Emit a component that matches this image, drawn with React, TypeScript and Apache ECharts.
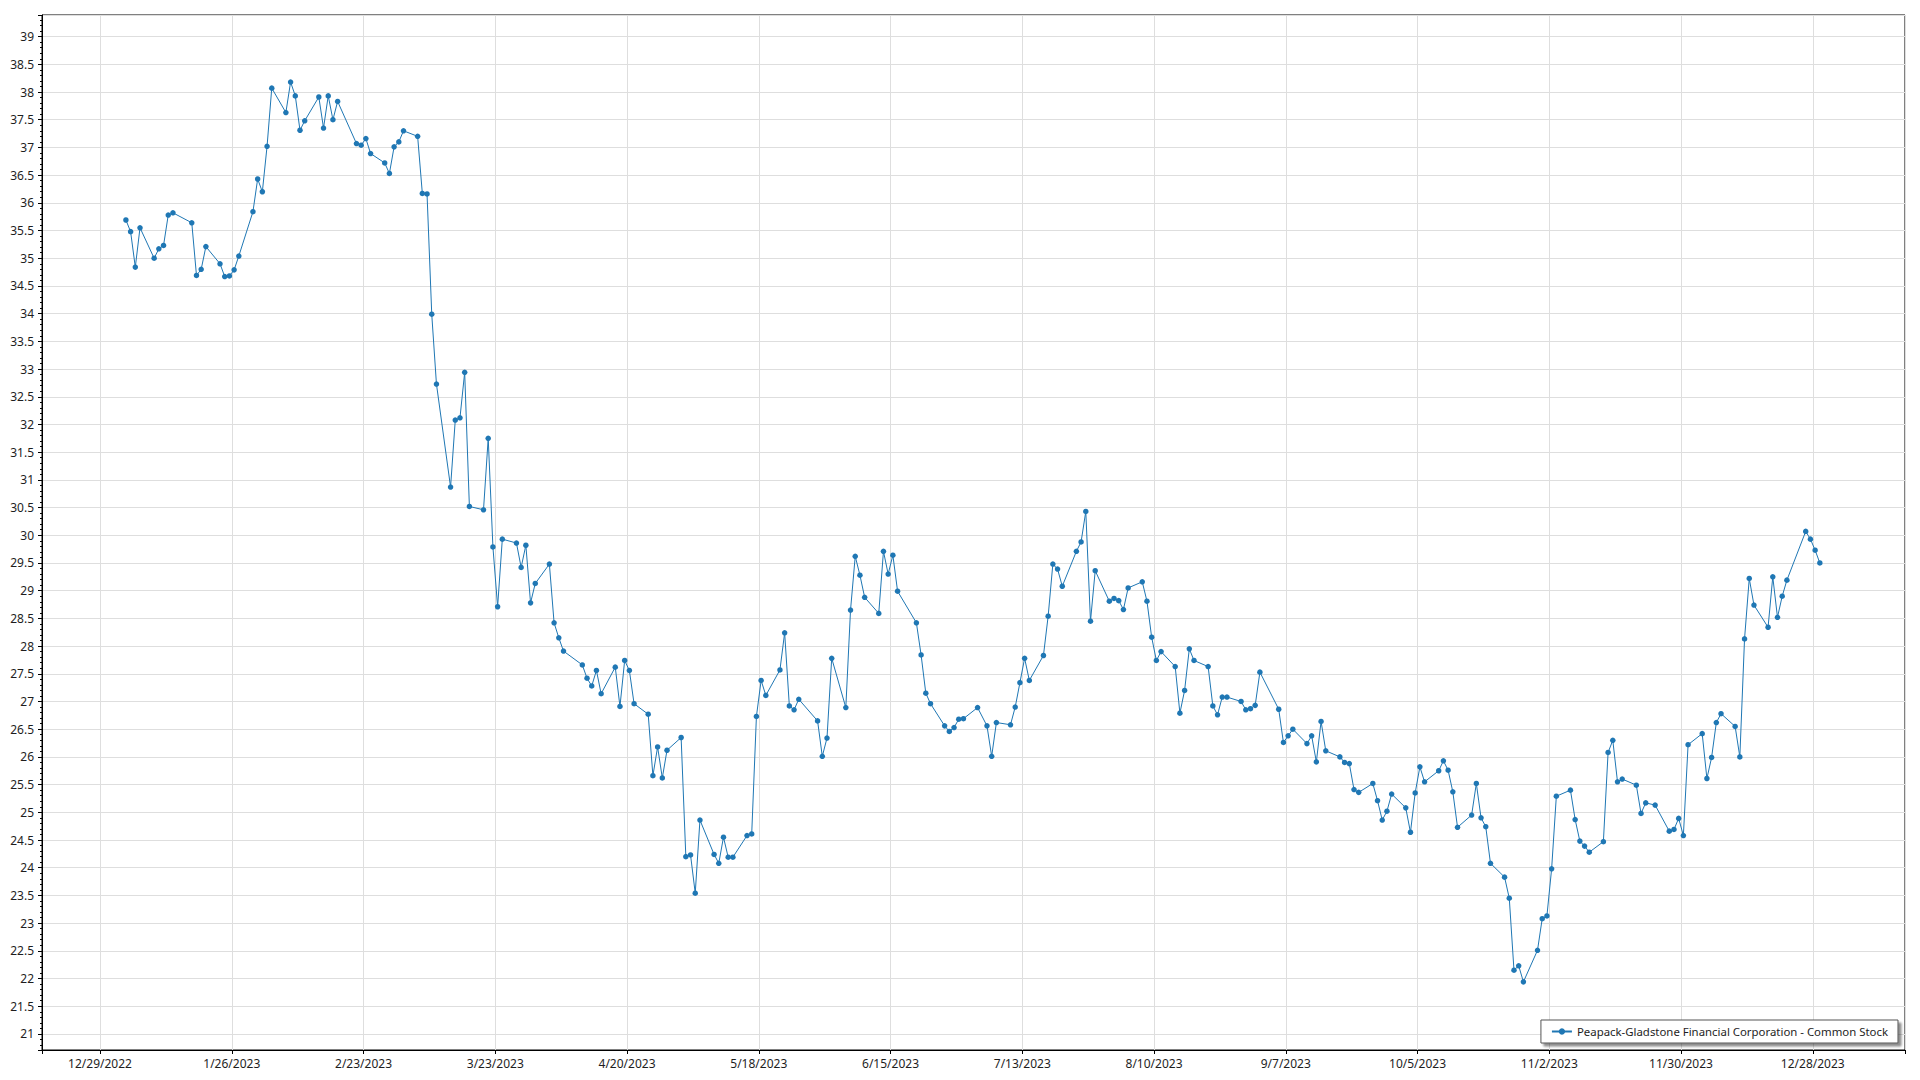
import React, { useEffect, useRef } from 'react';
import * as echarts from 'echarts';

const seriesName = 'Peapack-Gladstone Financial Corporation - Common Stock';

const tradingDates: string[] = [
  // Jan
  '2023-01-03','2023-01-04','2023-01-05','2023-01-06','2023-01-09','2023-01-10','2023-01-11','2023-01-12','2023-01-13','2023-01-17',
  '2023-01-18','2023-01-19','2023-01-20','2023-01-23','2023-01-24','2023-01-25','2023-01-26','2023-01-27','2023-01-30','2023-01-31',
  // Feb
  '2023-02-01','2023-02-02','2023-02-03','2023-02-06','2023-02-07','2023-02-08','2023-02-09','2023-02-10','2023-02-13','2023-02-14',
  '2023-02-15','2023-02-16','2023-02-17','2023-02-21','2023-02-22','2023-02-23','2023-02-24','2023-02-27','2023-02-28',
  // Mar
  '2023-03-01','2023-03-02','2023-03-03','2023-03-06','2023-03-07','2023-03-08','2023-03-09','2023-03-10','2023-03-13','2023-03-14',
  '2023-03-15','2023-03-16','2023-03-17','2023-03-20','2023-03-21','2023-03-22','2023-03-23','2023-03-24','2023-03-27','2023-03-28',
  '2023-03-29','2023-03-30','2023-03-31',
  // Apr
  '2023-04-03','2023-04-04','2023-04-05','2023-04-06','2023-04-10','2023-04-11','2023-04-12','2023-04-13','2023-04-14','2023-04-17',
  '2023-04-18','2023-04-19','2023-04-20','2023-04-21','2023-04-24','2023-04-25','2023-04-26','2023-04-27','2023-04-28',
  // May
  '2023-05-01','2023-05-02','2023-05-03','2023-05-04','2023-05-05','2023-05-08','2023-05-09','2023-05-10','2023-05-11','2023-05-12',
  '2023-05-15','2023-05-16','2023-05-17','2023-05-18','2023-05-19','2023-05-22','2023-05-23','2023-05-24','2023-05-25','2023-05-26',
  '2023-05-30','2023-05-31',
  // Jun
  '2023-06-01','2023-06-02','2023-06-05','2023-06-06','2023-06-07','2023-06-08','2023-06-09','2023-06-12','2023-06-13','2023-06-14',
  '2023-06-15','2023-06-16','2023-06-20','2023-06-21','2023-06-22','2023-06-23','2023-06-26','2023-06-27','2023-06-28','2023-06-29',
  '2023-06-30',
  // Jul
  '2023-07-03','2023-07-05','2023-07-06','2023-07-07','2023-07-10','2023-07-11','2023-07-12','2023-07-13','2023-07-14','2023-07-17',
  '2023-07-18','2023-07-19','2023-07-20','2023-07-21','2023-07-24','2023-07-25','2023-07-26','2023-07-27','2023-07-28','2023-07-31',
  // Aug
  '2023-08-01','2023-08-02','2023-08-03','2023-08-04','2023-08-07','2023-08-08','2023-08-09','2023-08-10','2023-08-11','2023-08-14',
  '2023-08-15','2023-08-16','2023-08-17','2023-08-18','2023-08-21','2023-08-22','2023-08-23','2023-08-24','2023-08-25','2023-08-28',
  '2023-08-29','2023-08-30','2023-08-31',
  // Sep
  '2023-09-01','2023-09-05','2023-09-06','2023-09-07','2023-09-08','2023-09-11','2023-09-12','2023-09-13','2023-09-14','2023-09-15',
  '2023-09-18','2023-09-19','2023-09-20','2023-09-21','2023-09-22','2023-09-25','2023-09-26','2023-09-27','2023-09-28','2023-09-29',
  // Oct
  '2023-10-02','2023-10-03','2023-10-04','2023-10-05','2023-10-06','2023-10-09','2023-10-10','2023-10-11','2023-10-12','2023-10-13',
  '2023-10-16','2023-10-17','2023-10-18','2023-10-19','2023-10-20','2023-10-23','2023-10-24','2023-10-25','2023-10-26','2023-10-27',
  '2023-10-30','2023-10-31',
  // Nov
  '2023-11-01','2023-11-02','2023-11-03','2023-11-06','2023-11-07','2023-11-08','2023-11-09','2023-11-10','2023-11-13','2023-11-14',
  '2023-11-15','2023-11-16','2023-11-17','2023-11-20','2023-11-21','2023-11-22','2023-11-24','2023-11-27','2023-11-28','2023-11-29',
  '2023-11-30',
  // Dec
  '2023-12-01','2023-12-04','2023-12-05','2023-12-06','2023-12-07','2023-12-08','2023-12-11','2023-12-12','2023-12-13','2023-12-14',
  '2023-12-15','2023-12-18','2023-12-19','2023-12-20','2023-12-21','2023-12-22','2023-12-26','2023-12-27','2023-12-28','2023-12-29',
];

const closePrices: number[] = [
  // Jan
  35.69, 35.48, 34.84, 35.55, 35.0, 35.17, 35.23, 35.78, 35.82, 35.64,
  34.69, 34.8, 35.21, 34.9, 34.67, 34.68, 34.79, 35.04, 35.84, 36.43,
  // Feb
  36.2, 37.02, 38.07, 37.63, 38.18, 37.93, 37.31, 37.48, 37.91, 37.35,
  37.93, 37.5, 37.83, 37.07, 37.04, 37.16, 36.89, 36.72, 36.53,
  // Mar
  37.01, 37.1, 37.3, 37.2, 36.17, 36.16, 33.99, 32.73, 30.87, 32.08,
  32.12, 32.94, 30.52, 30.46, 31.75, 29.79, 28.71, 29.93, 29.86, 29.42,
  29.82, 28.78, 29.13,
  // Apr
  29.48, 28.42, 28.15, 27.91, 27.66, 27.42, 27.28, 27.56, 27.14, 27.62,
  26.91, 27.74, 27.56, 26.96, 26.77, 25.66, 26.18, 25.62, 26.12,
  // May
  26.35, 24.2, 24.23, 23.54, 24.86, 24.24, 24.08, 24.55, 24.19, 24.19,
  24.58, 24.61, 26.73, 27.38, 27.11, 27.57, 28.24, 26.92, 26.85, 27.04,
  26.65, 26.01,
  // Jun
  26.34, 27.78, 26.89, 28.65, 29.62, 29.28, 28.88, 28.59, 29.71, 29.3,
  29.64, 28.99, 28.42, 27.84, 27.15, 26.96, 26.56, 26.46, 26.53, 26.68,
  26.69,
  // Jul
  26.89, 26.56, 26.01, 26.62, 26.58, 26.9, 27.34, 27.78, 27.38, 27.83,
  28.54, 29.48, 29.39, 29.08, 29.71, 29.88, 30.43, 28.45, 29.36, 28.81,
  // Aug
  28.86, 28.82, 28.66, 29.05, 29.16, 28.81, 28.16, 27.74, 27.9, 27.63,
  26.79, 27.2, 27.95, 27.74, 27.63, 26.92, 26.76, 27.08, 27.08, 27.0,
  26.85, 26.87, 26.93,
  // Sep
  27.53, 26.86, 26.26, 26.38, 26.5, 26.24, 26.38, 25.91, 26.64, 26.11,
  26.0, 25.9, 25.88, 25.41, 25.36, 25.52, 25.21, 24.86, 25.02, 25.33,
  // Oct
  25.08, 24.64, 25.35, 25.82, 25.55, 25.75, 25.93, 25.76, 25.37, 24.73,
  24.95, 25.52, 24.9, 24.74, 24.08, 23.83, 23.45, 22.15, 22.23, 21.94,
  22.51, 23.08,
  // Nov
  23.13, 23.98, 25.29, 25.4, 24.87, 24.48, 24.39, 24.28, 24.47, 26.08,
  26.3, 25.55, 25.6, 25.49, 24.98, 25.17, 25.13, 24.66, 24.69, 24.89,
  24.58,
  // Dec
  26.22, 26.42, 25.61, 25.99, 26.62, 26.78, 26.55, 26.0, 28.13, 29.22,
  28.74, 28.34, 29.25, 28.52, 28.9, 29.19, 30.07, 29.93, 29.73, 29.5,
];

// Axis settings (x in days counted from the first tick date, 12/29/2022)
const xTickOrigin = '2022-12-29';
const xTickStepDays = 28;
const xMinDays = -12.33;
const xMaxDays = 383.6;
const yMin = 20.71;
const yMax = 39.39;
const yStep = 0.5;

const DAY_MS = 86400000;
const originMs = Date.parse(xTickOrigin + 'T00:00:00Z');

const fontFamily = '"Noto Sans", "Open Sans", sans-serif';
const lineColor = '#1f77b4';
const gridColor = '#dedede';
const textColor = '#1e1e1e';

export default function App() {
  const ref = useRef<HTMLDivElement>(null);

  useEffect(() => {
    if (!ref.current) return;
    const chart = echarts.init(ref.current, undefined, { renderer: 'svg' });

    const points = tradingDates.map((d, i) => [
      (Date.parse(d + 'T12:00:00Z') - originMs) / DAY_MS,
      closePrices[i],
    ]);

    const xFormatter = (v: number) => {
      const k = v / xTickStepDays;
      if (Math.abs(k - Math.round(k)) > 1e-6) return '';
      const dt = new Date(originMs + Math.round(v) * DAY_MS);
      return `${dt.getUTCMonth() + 1}/${dt.getUTCDate()}/${dt.getUTCFullYear()}`;
    };
    const yFormatter = (v: number) => {
      const k = v / yStep;
      if (Math.abs(k - Math.round(k)) > 1e-6) return '';
      return String(parseFloat((Math.round(k) * yStep).toFixed(1)));
    };

    chart.setOption({
      animation: false,
      backgroundColor: '#ffffff',
      textStyle: { fontFamily },
      grid: {
        left: 42,
        right: 15,
        top: 15,
        bottom: 30,
        containLabel: false,
        outerBoundsMode: 'none',
        show: true,
        borderColor: '#000',
        borderWidth: 1,
        backgroundColor: '#fff',
      },
      legend: {
        show: true,
        right: 22,
        bottom: 37,
        orient: 'horizontal',
        itemWidth: 20,
        itemHeight: 8,
        padding: [6, 10, 6, 10],
        backgroundColor: '#fff',
        borderColor: '#555',
        borderWidth: 1,
        borderRadius: 0,
        shadowColor: 'rgba(0,0,0,0.45)',
        shadowOffsetX: 3,
        shadowOffsetY: 3,
        shadowBlur: 2,
        textStyle: { fontFamily, fontSize: 11.4, color: textColor },
        data: [seriesName],
      },
      xAxis: {
        type: 'value',
        min: xMinDays,
        max: xMaxDays,
        minInterval: xTickStepDays,
        maxInterval: xTickStepDays,
        axisLine: { show: true, onZero: false, lineStyle: { color: '#000', width: 1 } },
        axisTick: { show: true, length: 4, lineStyle: { color: '#000' } },
        axisLabel: {
          show: true,
          margin: 7,
          fontFamily,
          fontSize: 12,
          color: textColor,
          showMinLabel: true,
          showMaxLabel: true,
          hideOverlap: false,
          formatter: xFormatter,
        },
        splitLine: { show: true, lineStyle: { color: gridColor, width: 1 } },
      },
      yAxis: {
        type: 'value',
        min: yMin,
        max: yMax,
        minInterval: yStep,
        maxInterval: yStep,
        axisLine: { show: true, onZero: false, lineStyle: { color: '#000', width: 1 } },
        axisTick: { show: true, length: 4, lineStyle: { color: '#000' } },
        minorTick: { show: true, splitNumber: 5, length: 2, lineStyle: { color: '#000' } },
        axisLabel: {
          show: true,
          margin: 8,
          fontFamily,
          fontSize: 12,
          color: textColor,
          showMinLabel: true,
          showMaxLabel: true,
          hideOverlap: false,
          formatter: yFormatter,
        },
        splitLine: { show: true, lineStyle: { color: gridColor, width: 1 } },
      },
      series: [
        {
          type: 'line',
          name: seriesName,
          data: points,
          symbol: 'circle',
          symbolSize: 5.5,
          showSymbol: true,
          showAllSymbol: true,
          lineStyle: { color: lineColor, width: 1 },
          itemStyle: { color: lineColor },
          emphasis: { disabled: true },
        },
      ],
    });

    return () => chart.dispose();
  }, []);

  return (
    <div
      ref={ref}
      style={{ position: 'absolute', left: 0, top: 0, width: 1920, height: 1080, background: '#fff' }}
    />
  );
}
